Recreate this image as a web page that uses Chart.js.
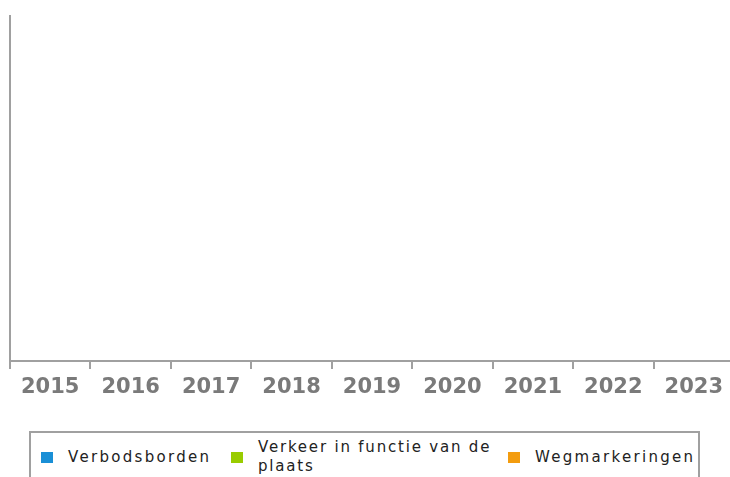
<!DOCTYPE html>
<html>
<head>
<meta charset="utf-8">
<script src="https://cdn.jsdelivr.net/npm/chart.js@4"></script>
<style>
    body { margin: 0; background: #fff; overflow: hidden; width: 730px; height: 477px; }
    #wrap { position: absolute; left: 0; top: 0; width: 734px; height: 420px; }
    #legend {
        position: absolute; left: 29px; top: 431px; width: 671px; height: 60px;
        border: 2px solid #a0a0a0; border-bottom: none; box-sizing: border-box;
        font-family: "DejaVu Sans", sans-serif; font-size: 15px; color: #222;
        letter-spacing: 2.3px;
    }
    .item { position: absolute; top: 0; height: 48px; display: flex; align-items: center; }
    .item .sw { width: 12px; height: 11px; margin-right: 15px; flex: none; }
    .item .txt { line-height: 19px; }
</style>
</head>
<body>
<div id="wrap"><canvas id="chart"></canvas></div>
<div id="legend"></div>
<script>
// categories (years) and series; the reference chart shows no bars at all
const years = ['2015', '2016', '2017', '2018', '2019', '2020', '2021', '2022', '2023'];
const seriesNames = ['Verbodsborden', 'Verkeer in functie van de plaats', 'Wegmarkeringen'];
const seriesColors = ['#1a8fd6', '#99cc00', '#f39c0f'];
const verbodsborden = [null, null, null, null, null, null, null, null, null];
const verkeerPlaats = [null, null, null, null, null, null, null, null, null];
const wegmarkeringen = [null, null, null, null, null, null, null, null, null];

const seriesValues = [verbodsborden, verkeerPlaats, wegmarkeringen];
const axisColor = '#a0a0a0';

const ctx = document.getElementById('chart').getContext('2d');
new Chart(ctx, {
    type: 'bar',
    data: {
        labels: years,
        datasets: seriesNames.map((name, i) => ({
            label: name,
            data: seriesValues[i],
            backgroundColor: seriesColors[i],
            borderWidth: 0
        }))
    },
    options: {
        responsive: true,
        maintainAspectRatio: false,
        animation: false,
        layout: { padding: { left: 10, top: 16, right: 0, bottom: 0 } },
        plugins: {
            legend: { display: false },
            tooltip: { enabled: false }
        },
        scales: {
            x: {
                afterFit: s => { s.height = 420 - 16 - 345; },
                border: { display: true, color: axisColor, width: 2 },
                grid: {
                    display: true,
                    drawOnChartArea: false,
                    drawTicks: true,
                    tickLength: 8,
                    color: axisColor,
                    lineWidth: 2
                },
                ticks: {
                    color: '#7a7a7a',
                    padding: 6,
                    maxRotation: 0,
                    font: { family: 'DejaVu Sans', size: 21, weight: 'bold' }
                }
            },
            y: {
                beginAtZero: true,
                afterFit: s => { s.width = 0; },
                border: { display: true, color: axisColor, width: 2 },
                grid: { display: false, drawTicks: false },
                ticks: { display: false }
            }
        }
    }
});

// html legend (second label wraps onto two lines like the reference)
const legend = document.getElementById('legend');
const itemLeft = [10, 200, 477];
const textWidth = [null, 250, null];
const spacing = [null, '1.8px', null];
seriesNames.forEach((name, i) => {
    const item = document.createElement('div');
    item.className = 'item';
    item.style.left = itemLeft[i] + 'px';
    const sw = document.createElement('span');
    sw.className = 'sw';
    sw.style.background = seriesColors[i];
    const txt = document.createElement('span');
    txt.className = 'txt';
    txt.textContent = name;
    if (textWidth[i]) txt.style.width = textWidth[i] + 'px';
    if (spacing[i]) txt.style.letterSpacing = spacing[i];
    item.appendChild(sw);
    item.appendChild(txt);
    legend.appendChild(item);
});
</script>
</body>
</html>
